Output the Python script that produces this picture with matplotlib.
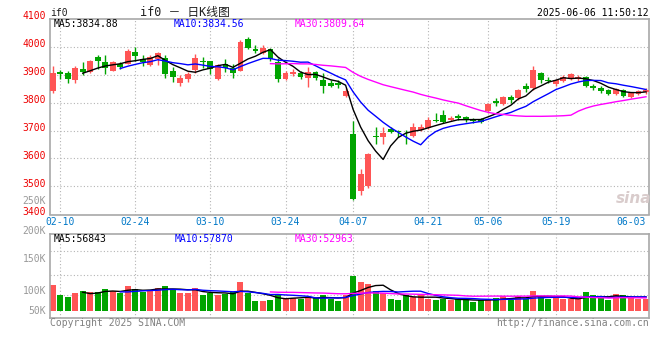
import numpy as np
import pandas as pd
import matplotlib
matplotlib.use("Agg")
import matplotlib.pyplot as plt
from matplotlib.transforms import blended_transform_factory, ScaledTranslation

# ---------------- data ----------------
opens = [3841, 3910, 3906, 3880, 3920, 3909, 3962, 3943, 3914, 3939,
         3939, 3980, 3954, 3935, 3956, 3959, 3912, 3871, 3884, 3916,
         3946, 3948, 3885, 3938, 3924, 3914, 4027, 3991, 3976, 3991,
         3946, 3883, 3902, 3906, 3889, 3910, 3880, 3871, 3869, 3824,
         3687, 3485, 3500, 3680, 3676, 3706, 3696, 3695, 3679, 3703,
         3709, 3737, 3757, 3738, 3752, 3748, 3740, 3740, 3768, 3805,
         3796, 3820, 3815, 3860, 3850, 3905, 3882, 3866, 3878, 3888,
         3884, 3890, 3860, 3852, 3845, 3830, 3845, 3820, 3832, 3838]
highs = [3931, 3916, 3911, 3930, 3945, 3952, 3968, 3970, 3949, 3945,
         3990, 3998, 3968, 3969, 3980, 3970, 3926, 3898, 3910, 3973,
         3962, 3948, 3938, 3954, 3938, 4023, 4033, 4005, 4005, 3993,
         3958, 3914, 3920, 3914, 3928, 3914, 3904, 3880, 3880, 3851,
         3735, 3561, 3618, 3714, 3712, 3714, 3703, 3703, 3726, 3724,
         3748, 3761, 3773, 3752, 3760, 3752, 3745, 3744, 3800, 3815,
         3825, 3826, 3850, 3868, 3930, 3910, 3890, 3885, 3898, 3905,
         3898, 3895, 3866, 3858, 3850, 3852, 3850, 3838, 3845, 3852]
lows = [3835, 3884, 3871, 3869, 3898, 3906, 3921, 3903, 3911, 3918,
        3936, 3947, 3930, 3930, 3934, 3889, 3874, 3860, 3872, 3904,
        3925, 3901, 3882, 3910, 3889, 3911, 3992, 3978, 3972, 3950,
        3872, 3880, 3896, 3884, 3856, 3880, 3835, 3854, 3851, 3821,
        3452, 3468, 3495, 3652, 3652, 3692, 3677, 3653, 3678, 3698,
        3705, 3731, 3726, 3733, 3738, 3732, 3728, 3726, 3762, 3788,
        3790, 3800, 3810, 3838, 3845, 3870, 3868, 3860, 3872, 3882,
        3878, 3855, 3845, 3835, 3828, 3826, 3818, 3815, 3828, 3832]
closes = [3904, 3901, 3885, 3924, 3909, 3948, 3949, 3922, 3945, 3928,
          3985, 3966, 3946, 3961, 3978, 3901, 3890, 3889, 3901, 3959,
          3944, 3920, 3934, 3924, 3906, 4017, 3996, 3984, 3993, 3954,
          3883, 3906, 3910, 3890, 3910, 3886, 3860, 3860, 3862, 3841,
          3454, 3545, 3616, 3676, 3692, 3696, 3694, 3693, 3712, 3712,
          3737, 3734, 3731, 3746, 3745, 3738, 3735, 3732, 3795, 3798,
          3818, 3808, 3845, 3848, 3915, 3880, 3875, 3880, 3892, 3900,
          3890, 3860, 3850, 3842, 3832, 3848, 3822, 3834, 3840, 3846]
volumes_k = [108, 67, 58, 75, 83, 79, 79, 92, 83, 74,
             104, 92, 79, 88, 96, 104, 92, 75, 75, 96,
             67, 75, 67, 71, 79, 121, 75, 42, 42, 46,
             71, 54, 54, 50, 58, 54, 67, 49, 43, 67,
             147, 121, 112, 83, 74, 50, 46, 67, 58, 67,
             50, 46, 50, 46, 50, 46, 37, 46, 50, 54,
             62, 46, 62, 50, 83, 62, 50, 54, 50, 50,
             50, 79, 67, 54, 46, 71, 67, 54, 50, 50]
tick_days = [1, 11, 21, 31, 40, 50, 58, 67, 77]
tick_labels = ["02-10", "02-24", "03-10", "03-24", "04-07", "04-21", "05-06", "05-19", "06-03"]
price_ticks = [3400, 3500, 3600, 3700, 3800, 3900, 4000, 4100]
price_legend = ["MA5:3834.88", "MA10:3834.56", "MA30:3809.64"]
vol_legend = ["MA5:56843", "MA10:57870", "MA30:52963"]
vol_tick_labels = ["250K", "200K", "150K", "100K", "50K"]

# ---------------- style ----------------
RED = "#FF5555"
GREEN = "#00A400"
GRID = "#b4b4b4"
BORDER = "#a8a8a8"
MA_COLORS = ["black", "#0000FF", "#FF00FF"]
MONO = "DejaVu Sans Mono"
W, H = 660, 360

fig = plt.figure(figsize=(6.6, 3.6), dpi=100)
fig.patch.set_facecolor("white")


def rect(l, t, r, b):
    return [l / W, 1 - b / H, (r - l) / W, (b - t) / H]


def ftext(x, y, s, **kw):
    kw.setdefault("family", MONO)
    kw.setdefault("fontsize", 7)
    kw.setdefault("va", "center")
    fig.text(x / W, 1 - y / H, s, **kw)


o = np.array(opens, float)
h = np.array(highs, float)
l = np.array(lows, float)
c = np.array(closes, float)
v = np.array(volumes_k, float)
x = np.arange(len(c))
up = c >= o
cols = np.where(up, RED, GREEN)

ax = fig.add_axes(rect(50, 18.5, 649, 214.5))
axv = fig.add_axes(rect(50, 234, 649, 318))

for a in (ax, axv):
    a.set_xlim(-0.36, 79.4)
    for s in a.spines.values():
        s.set_color(BORDER)
        s.set_linewidth(1.2)
    a.set_xticks([])
    a.set_yticks([])
    for d in tick_days[:-1]:
        a.axvline(d, color=GRID, lw=0.8, ls=(0, (1, 2)), zorder=0)

# price panel
ax.set_ylim(3400, 4100)
for p in price_ticks[1:-1]:
    ax.axhline(p, color=GRID, lw=0.8, ls=(0, (1, 2)), zorder=0)
ax.vlines(x, l, h, colors=cols, lw=1.0, zorder=2)
body_h = np.maximum(np.abs(c - o), 2.5)
ax.bar(x, body_h, bottom=np.minimum(o, c), width=0.78, color=cols, zorder=3, linewidth=0)

cs = pd.Series(c)
for n, col in zip([5, 10, 30], MA_COLORS):
    ax.plot(x, cs.rolling(n).mean(), color=col, lw=1.0, zorder=4)

ytr = blended_transform_factory(ax.transAxes, ax.transData) + \
    ScaledTranslation(-4 / 100, 2.5 / 100, fig.dpi_scale_trans)
for p in price_ticks:
    ax.text(0, p, str(p), transform=ytr, ha="right", va="center",
            color="#EE0000", family=MONO, fontsize=7)

xtr = blended_transform_factory(ax.transData, ax.transAxes) + \
    ScaledTranslation(0, -7.2 / 100, fig.dpi_scale_trans)
for d, lab in zip(tick_days, tick_labels):
    ax.text(d, 0, lab, transform=xtr, ha="center", va="center",
            color="#0078C8", family=MONO, fontsize=7, clip_on=False)

# volume panel
axv.set_ylim(-7 / 0.24, 77 / 0.24)
for g in [250, 150, 65]:
    axv.axhline(g, color=GRID, lw=0.8, ls=(0, (1, 2)), zorder=0)
axv.bar(x, v, width=0.8, color=cols, linewidth=0, zorder=2)
vs = pd.Series(v)
for n, col in zip([5, 10, 30], MA_COLORS):
    axv.plot(x, vs.rolling(n).mean(), color=col, lw=1.0, zorder=3)

# legends
for xp, s, col in zip([54, 174, 295], price_legend, MA_COLORS):
    ftext(xp, 24, s, color=col)
for xp, s, col in zip([54, 175, 295], vol_legend, MA_COLORS):
    ftext(xp, 238.7, s, color=col)

# volume tick labels (as placed in the reference)
for yp, s in zip([201, 231, 259, 291, 311], vol_tick_labels):
    ftext(46, yp, s, color="#999999", ha="right")

# header
ftext(50, 12.5, "if0", color="#202020")
ftext(140, 12.5, "if0 － 日K线图", color="#202020", fontsize=8.5,
      family=[MONO, "Noto Sans CJK SC"])
ftext(649, 12.5, "2025-06-06 11:50:12", color="black", ha="right")

# footer
ftext(50, 323.5, "Copyright 2025 SINA.COM", color="#808080")
ftext(649, 323.5, "http://finance.sina.com.cn", color="#808080", ha="right")

# watermark
ftext(634, 198, "sina", color="#d9cccc", ha="center", fontsize=11,
      family="DejaVu Sans", style="italic", weight="bold")

fig.savefig("out.png", dpi=100, facecolor="white")
